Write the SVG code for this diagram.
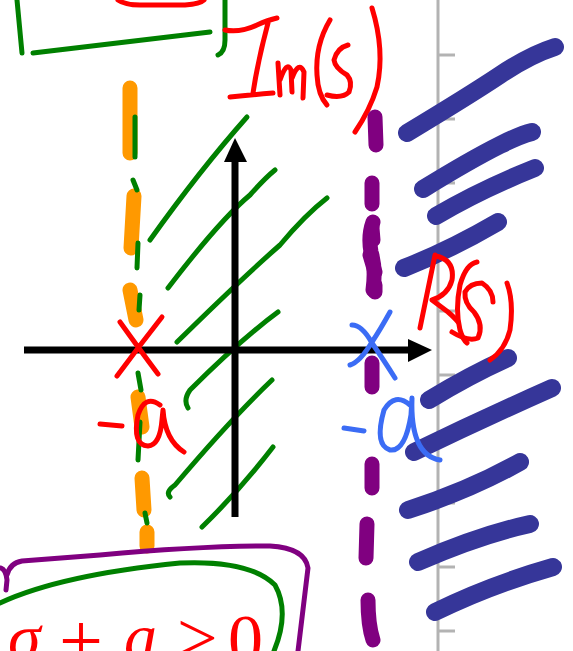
<svg xmlns="http://www.w3.org/2000/svg" width="573" height="651" viewBox="0 0 573 651">
<style>
.s{fill:none;stroke-linecap:round;stroke-linejoin:round}
.red{stroke:#ff0000;stroke-width:5}
.grn{stroke:#008000;stroke-width:5}
.org{stroke:#ff9900;stroke-width:15}
.pur{stroke:#800080;stroke-width:15}
.pur2{stroke:#800080;stroke-width:5}
.blu{stroke:#3b6cf5;stroke-width:5}
.dbl{stroke:#363699;stroke-width:18}
.ax{stroke:#000;stroke-width:7;fill:none}
.tx{font-family:"Liberation Serif",serif;font-style:italic;fill:#ff0000}
.tu{font-family:"Liberation Serif",serif;fill:#ff0000}
</style>
<rect width="573" height="651" fill="#fff"/>
<g id="grid">
<path d="M438 0V651" stroke="#b3b3b3" stroke-width="3" fill="none"/>
<path d="M438 55h17M438 119h17M438 183h17M438 247h17M438 311h17M438 375h17M438 439h17M438 503h17M438 567h17M438 631h17" stroke="#b3b3b3" stroke-width="3"/>
</g>
<g id="top-box">
<path class="s red" d="M118 0Q125 5 140 5L185 5Q200 4 204 0"/>
<path class="s grn" d="M17 0L22 53M33 53Q120 43 210 32M225 0L225 40Q225 52 218 55"/>
</g>
<g id="im-label">
<path class="s red" d="M225 30Q240 33 257 25Q268 20 277 18M268 23Q258 60 253 93M230 97Q250 95 273 93"/>
<path class="s red" d="M278 63L280 95M280 80Q287 60 291 70L292 92M292 78Q299 60 304 72L303 98"/>
<path class="s red" d="M330 20Q315 45 317 75Q318 95 327 105"/>
<path class="s red" d="M348 45Q337 48 334 60Q335 68 347 75Q353 82 349 92Q342 99 327 95"/>
<path class="s red" d="M372 8Q385 50 377 87Q370 110 355 132"/>
</g>
<g id="hatches-right">
<path class="s dbl" d="M407 133Q470 95 500 75Q530 55 555 47"/>
<path class="s dbl" d="M423 189Q470 160 500 145Q520 135 532 132"/>
<path class="s dbl" d="M436 216Q480 190 535 168"/>
<path class="s dbl" d="M404 268Q450 250 498 222"/>
<path class="s dbl" d="M429 400Q470 375 508 358"/>
<path class="s dbl" d="M414 452Q480 420 552 388"/>
<path class="s dbl" d="M408 510Q470 490 520 462"/>
<path class="s dbl" d="M418 562Q480 535 530 524"/>
<path class="s dbl" d="M435 612Q490 585 553 567"/>
</g>
<g id="re-label">
<path class="s red" d="M435 255L420 328M436 256Q455 260 452 280Q448 295 432 300L448 312Q455 318 458 322"/>
<path class="s red" d="M477 262Q466 264 460 285Q455 310 460 330Q463 340 467 343"/>
<path class="s red" d="M493 302Q493 290 482 283Q470 283 465 292Q464 303 474 312Q484 325 478 338Q468 342 452 332"/>
<path class="s red" d="M507 283Q514 302 510 330Q505 350 490 360"/>
</g>
<g id="orange-line">
<path class="s org" d="M130 88L130 153M134 196L131 248M130 290L136 320M138 397L142 427M142 478L144 510M147 532L147 546"/>
<path class="s grn" d="M135 117L135 157M133 180L137 190M138 243L137 268M140 295L139 310M138 373L141 390M140 422L138 460M145 513L147 523"/>
</g>
<g id="purple-line">
<path class="s pur" d="M375 117L376 145M372 183L372 204M373 222Q368 236 371 252Q376 268 373 290M372 363L372 387M372 464L372 488M367 524L366 558M368 600Q368 625 373 640"/>
<path class="s pur" stroke-width="17" d="M372 228L373 240M370 255L375 272M375 285L375 292"/>
</g>
<g id="hatches-left">
<path class="s grn" d="M150 240Q200 170 247 117"/>
<path class="s grn" d="M168 288Q220 220 250 195Q265 178 275 170"/>
<path class="s grn" d="M177 342Q240 280 280 245Q305 215 327 198"/>
<path class="s grn" d="M188 408Q183 400 190 390Q240 340 278 312"/>
<path class="s grn" d="M170 497Q165 492 175 485Q230 420 272 380"/>
<path class="s grn" d="M202 527Q240 490 273 447"/>
</g>
<g id="axes">
<path class="ax" d="M24 350H412M235 517V160"/>
<path d="M408 339L432 350L408 362Z" fill="#000"/>
<path d="M224 162L235 138L247 162Z" fill="#000"/>
</g>
<g id="pole-left">
<path class="s red" d="M120 322Q140 350 158 374M162 317Q140 345 117 376"/>
<path class="s red" d="M100 424L122 426M160 405Q145 394 138 415Q132 445 148 446Q160 445 162 420L163 410Q165 440 184 452"/>
</g>
<g id="pole-right">
<path class="s blu" d="M352 325Q362 325 372 343Q385 362 395 378M390 312Q380 330 372 342Q360 362 350 365"/>
<path class="s blu" d="M344 428L364 431M410 405Q395 392 384 410Q374 445 390 450Q405 452 411 415L412 398Q410 455 440 460"/>
</g>
<g id="bottom-box">
<path class="s pur2" d="M1 568Q6 570 7 580L6 590M7 575Q10 563 22 561L100 555Q200 546 270 546Q305 548 308 568L298 651"/>
<path class="s grn" d="M0 603Q60 575 180 563Q250 560 275 585Q290 612 274 651"/>
<text class="tx" x="8" y="659" font-size="66">σ</text>
<text class="tu" x="59" y="667" font-size="78">+</text>
<text class="tx" x="124" y="659" font-size="66">a</text>
<text class="tu" x="177" y="662" font-size="72">&gt;</text>
<text class="tu" x="228" y="663" font-size="70">0</text>
</g>
</svg>
